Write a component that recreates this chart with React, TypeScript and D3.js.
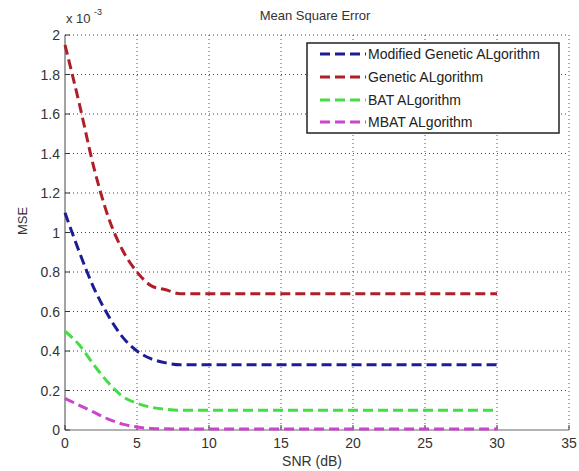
import React from "react";
import * as d3 from "d3";

const snr = [0, 1, 2, 3, 4, 5, 6, 7, 8, 9, 10, 15, 20, 25, 30];
const mgaValues = [1.1, 0.9, 0.72, 0.58, 0.47, 0.4, 0.36, 0.34, 0.33, 0.33, 0.33, 0.33, 0.33, 0.33, 0.33];
const gaValues = [1.95, 1.65, 1.33, 1.08, 0.91, 0.8, 0.73, 0.71, 0.69, 0.69, 0.69, 0.69, 0.69, 0.69, 0.69];
const batValues = [0.5, 0.43, 0.33, 0.24, 0.17, 0.135, 0.115, 0.105, 0.1, 0.1, 0.1, 0.1, 0.1, 0.1, 0.1];
const mbatValues = [0.16, 0.125, 0.09, 0.055, 0.03, 0.015, 0.008, 0.006, 0.005, 0.005, 0.005, 0.005, 0.005, 0.005, 0.005];

const seriesNames = ["Modified Genetic ALgorithm", "Genetic ALgorithm", "BAT ALgorithm", "MBAT ALgorithm"];
const seriesColors = ["#1c1c96", "#b01e28", "#44dd44", "#cc44cc"];
const seriesValues = [mgaValues, gaValues, batValues, mbatValues];

const xTicks = [0, 5, 10, 15, 20, 25, 30, 35];
const yTicks = [0, 0.2, 0.4, 0.6, 0.8, 1, 1.2, 1.4, 1.6, 1.8, 2];

const W = 579;
const H = 471;
const left = 65;
const right = 569;
const top = 35;
const bottom = 430;

export default function App() {
  const x = d3.scaleLinear().domain([0, 35]).range([left, right]);
  const y = d3.scaleLinear().domain([0, 2]).range([bottom, top]);
  const line = d3
    .line<number>()
    .x((_, i) => x(snr[i]))
    .y((d) => y(d))
    .curve(d3.curveMonotoneX);
  const font = "'Liberation Sans', Arial, sans-serif";
  const fmt = d3.format("~g");
  const legendX = 307;
  const legendY = 43;
  const legendW = 252;
  const legendH = 90;
  const legendRows = [54, 77, 100, 122];

  return (
    <svg width={W} height={H} style={{ position: "absolute", left: 0, top: 0, background: "#fff" }} fontFamily={font}>
      <rect x={0} y={0} width={W} height={H} fill="#fff" />
      {/* grid */}
      {xTicks.filter((t) => t > 0).map((t) => (
        <line key={"gx" + t} x1={x(t)} x2={x(t)} y1={top} y2={bottom} stroke="#555" strokeWidth={1} strokeDasharray="1 3" />
      ))}
      {yTicks.filter((t) => t > 0).map((t) => (
        <line key={"gy" + t} x1={left} x2={right} y1={y(t)} y2={y(t)} stroke="#444" strokeWidth={1} strokeDasharray="1 3" />
      ))}
      {/* axes */}
      <line x1={left} x2={left} y1={top} y2={bottom} stroke="#666" strokeWidth={1.2} />
      <line x1={left} x2={right} y1={bottom} y2={bottom} stroke="#666" strokeWidth={1.2} />
      {xTicks.map((t) => (
        <g key={"xt" + t}>
          <line x1={x(t)} x2={x(t)} y1={bottom} y2={bottom - 5} stroke="#333" strokeWidth={1} />
          <text x={x(t)} y={448} textAnchor="middle" fontSize={14} fill="#333">
            {fmt(t)}
          </text>
        </g>
      ))}
      {yTicks.map((t) => (
        <g key={"yt" + t}>
          <line x1={left} x2={left + 5} y1={y(t)} y2={y(t)} stroke="#333" strokeWidth={1} />
          <text x={60} y={y(t)} dy="0.36em" textAnchor="end" fontSize={14} fill="#333">
            {fmt(t)}
          </text>
        </g>
      ))}
      {/* exponent */}
      <text x={66} y={23} fontSize={13} fill="#333">
        x 10
      </text>
      <text x={94} y={15} fontSize={9} fill="#333">
        -3
      </text>
      {/* title and labels */}
      <text x={315} y={20} textAnchor="middle" fontSize={13} fill="#333">
        Mean Square Error
      </text>
      <text x={312} y={466} textAnchor="middle" fontSize={14} fill="#333">
        SNR (dB)
      </text>
      <text transform={`translate(22,221) rotate(-90)`} textAnchor="middle" dy="0.35em" fontSize={13} fill="#333">
        MSE
      </text>
      {/* series */}
      {seriesValues.map((vals, i) => (
        <path
          key={"s" + i}
          d={line(vals) || ""}
          fill="none"
          stroke={seriesColors[i]}
          strokeWidth={3}
          strokeDasharray="10 5"
        />
      ))}
      {/* legend */}
      <rect x={legendX} y={legendY} width={legendW} height={legendH} fill="#fff" stroke="#222" strokeWidth={1.5} />
      {seriesNames.map((name, i) => (
        <g key={"lg" + i}>
          <line
            x1={320}
            x2={366}
            y1={legendRows[i]}
            y2={legendRows[i]}
            stroke={seriesColors[i]}
            strokeWidth={3}
            strokeDasharray="10 5"
          />
          <text x={368} y={legendRows[i]} dy="0.36em" fontSize={14} fill="#222">
            {name}
          </text>
        </g>
      ))}
    </svg>
  );
}
